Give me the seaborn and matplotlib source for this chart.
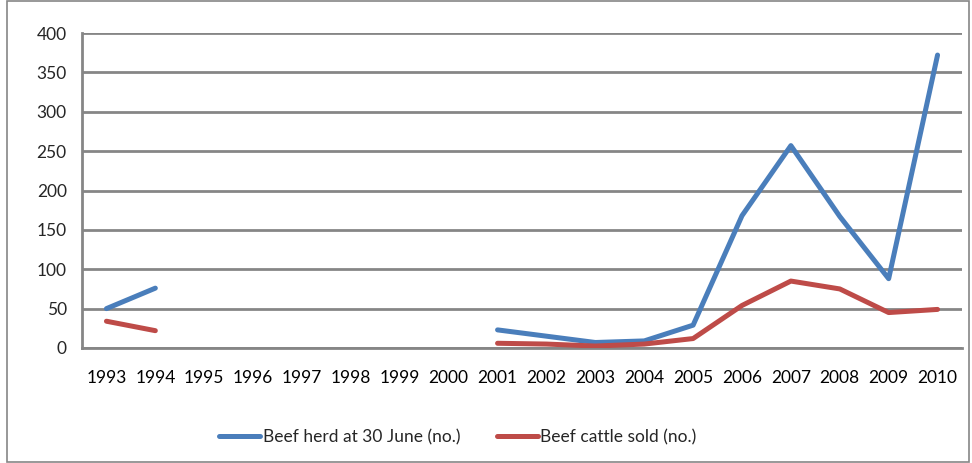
import numpy as np
import pandas as pd
import matplotlib
matplotlib.use("Agg")
import matplotlib.pyplot as plt
import seaborn as sns
from matplotlib.patches import Rectangle
from matplotlib.lines import Line2D

years = ["1993", "1994", "1995", "1996", "1997", "1998", "1999", "2000", "2001",
         "2002", "2003", "2004", "2005", "2006", "2007", "2008", "2009", "2010"]
herd = [50, 76, np.nan, np.nan, np.nan, np.nan, np.nan, np.nan, 23,
        15, 7, 9, 29, 168, 257, 167, 88, 372]
sold = [34, 22, np.nan, np.nan, np.nan, np.nan, np.nan, np.nan, 6,
        5, 2.5, 5, 12, 54, 85, 75, 45, 49]
series_names = ["Beef herd at 30 June (no.)", "Beef cattle sold (no.)"]
colors = ["#4A7EBB", "#BE4B48"]

sns.set_theme(style="white")
plt.rcParams["font.family"] = ["Lato", "DejaVu Sans"]

rows = []
for name, vals in zip(series_names, [herd, sold]):
    seg = 0
    prev_nan = False
    for i, v in enumerate(vals):
        if np.isnan(v):
            prev_nan = True
            continue
        if prev_nan:
            seg += 1
            prev_nan = False
        rows.append({"pos": i, "value": v, "series": name, "seg": f"{name}_{seg}"})
df = pd.DataFrame(rows)

fig = plt.figure(figsize=(9.72, 4.63), dpi=100)
ax = fig.add_axes([82/972, 1-348/463, (962-82)/972, (348-33)/463])

sns.lineplot(data=df, x="pos", y="value", hue="series", units="seg", estimator=None,
             palette=dict(zip(series_names, colors)), hue_order=series_names,
             linewidth=3.6, ax=ax, legend=False, zorder=3)

ax.set_xlim(-0.5, len(years) - 0.5)
ax.set_ylim(0, 400)
ax.set_yticks(np.arange(0, 401, 50))
ax.yaxis.grid(True, color="#868686", linewidth=2)
ax.xaxis.grid(False)
ax.set_axisbelow(True)
ax.set_xticks(np.arange(len(years)))
ax.set_xticklabels(years)
ax.set_xticks(np.arange(-0.5, len(years), 1), minor=True)
ax.tick_params(axis="x", which="major", length=0, pad=16, labelsize=12.5, colors="black")
ax.tick_params(axis="x", which="minor", length=6, width=2, color="#868686", direction="out")
ax.tick_params(axis="y", which="major", length=6, width=2, color="#868686", direction="out",
               labelsize=12.5, pad=5)
for s in ["top", "right"]:
    ax.spines[s].set_visible(False)
ax.spines["left"].set_color("#868686")
ax.spines["left"].set_linewidth(2)
ax.spines["bottom"].set_color("#868686")
ax.spines["bottom"].set_linewidth(2)
ax.set_xlabel("")
ax.set_ylabel("")

handles = [Line2D([0], [0], color=c, lw=3.6) for c in colors]
fig.legend(handles, series_names, loc="center", bbox_to_anchor=(458/972, 1-437/463),
           ncol=2, frameon=False, handlelength=2.35, handletextpad=0.15, columnspacing=2.1,
           fontsize=12.5)

fig.patches.append(Rectangle((7/972, 0.002), (969-7)/972, 0.996, transform=fig.transFigure,
                             fill=False, edgecolor="#868686", linewidth=1.2))

fig.savefig("out.png", dpi=100)
